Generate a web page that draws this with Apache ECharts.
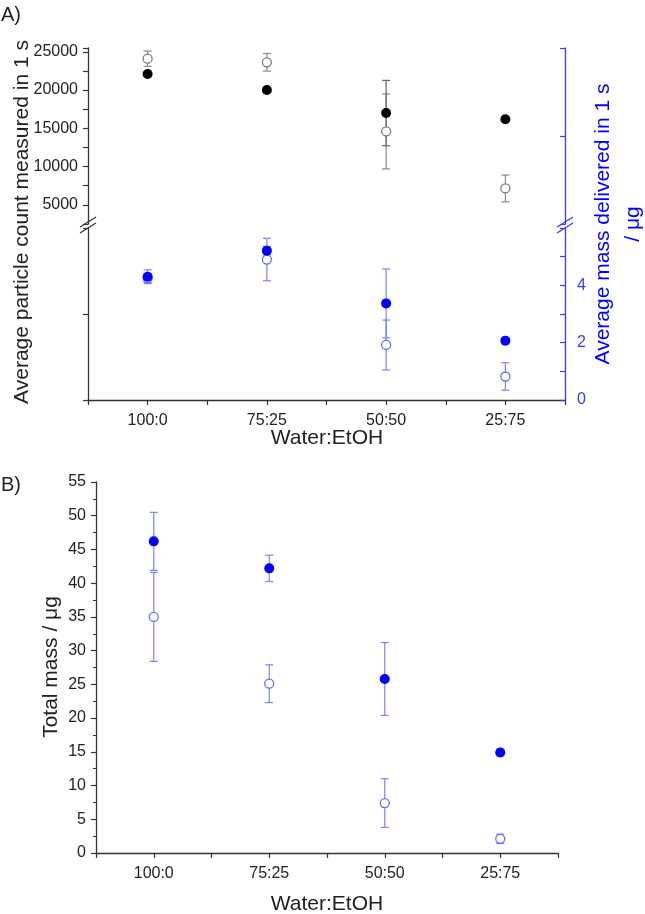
<!DOCTYPE html>
<html>
<head>
<meta charset="utf-8">
<script src="https://cdn.jsdelivr.net/npm/echarts@6/dist/echarts.min.js"></script>
<style>
  html, body { margin: 0; padding: 0; background: #fff; }
  #chart { width: 645px; height: 914px; }
</style>
</head>
<body>
<div id="chart"></div>
<script>
// categories on both x axes
const categories = ["100:0", "75:25", "50:50", "25:75"];

// A) upper part: particle count in 1 s (left axis)
const countFilled = [22100, 20000, 17000, 16200];
const countFilledErr = [300, 250, 4270, 250];
const countOpen = [24100, 23630, 14600, 7150];
const countOpenErr = [1000, 1150, 4900, 1750];

// A) lower part: mass delivered in 1 s / ug (right axis)
const massFilled = [4.30, 5.21, 3.37, 2.07];
const massFilledErr = [0.24, 0.15, 1.2, 0.08];
const massOpen = [4.25, 4.90, 1.92, 0.82];
const massOpenErr = [0.15, 0.74, 0.87, 0.48];

// B) total mass / ug
const totalFilled = [46.2, 42.2, 25.8, 14.9];
const totalFilledErr = [4.3, 1.95, 5.4, 0.5];
const totalOpen = [35.0, 25.1, 7.4, 2.1];
const totalOpenErr = [6.6, 2.8, 3.6, 0.7];

// tick labels
const countTicks = [5000, 10000, 15000, 20000, 25000];
const massTicks = [0, 2, 4];

const FONT = "Liberation Sans, Arial, sans-serif";
const TXT = "#222";
const BLUE = "#0000ff";
const AXBLUE = "#3a3aff";

function pts(vals) {
  return vals.map((v, i) => [i + 1, v]);
}
function errs(vals, e) {
  return vals.map((v, i) => [i + 1, v - e[i], v + e[i]]);
}

function errorSeries(data, color, xi, yi) {
  return {
    type: "custom",
    xAxisIndex: xi,
    yAxisIndex: yi,
    z: 1,
    silent: true,
    data: data,
    renderItem: function (params, api) {
      const x = api.value(0);
      const a = api.coord([x, api.value(2)]);
      const b = api.coord([x, api.value(1)]);
      const w = 4;
      const style = { stroke: color, lineWidth: 1.2, fill: null };
      return {
        type: "group",
        children: [
          { type: "line", shape: { x1: a[0], y1: a[1], x2: b[0], y2: b[1] }, style: style },
          { type: "line", shape: { x1: a[0] - w, y1: a[1], x2: a[0] + w, y2: a[1] }, style: style },
          { type: "line", shape: { x1: b[0] - w, y1: b[1], x2: b[0] + w, y2: b[1] }, style: style }
        ]
      };
    }
  };
}

function markerSeries(data, filled, color, xi, yi) {
  return {
    type: "scatter",
    xAxisIndex: xi,
    yAxisIndex: yi,
    z: 3,
    symbol: "circle",
    symbolSize: filled ? 10 : 9,
    itemStyle: filled
      ? { color: color, opacity: 1 }
      : { color: "#fff", borderColor: color, borderWidth: 1.3, opacity: 1 },
    data: data
  };
}

function catAxis(gi, show) {
  return {
    type: "value",
    gridIndex: gi,
    show: show,
    min: 0.5,
    max: 4.5,
    interval: 0.5,
    axisLine: { lineStyle: { color: "#333", width: 1.3 } },
    axisTick: { length: 5, lineStyle: { color: "#333", width: 1.2 } },
    axisLabel: {
      margin: 13,
      fontSize: 16,
      fontFamily: FONT,
      color: TXT,
      formatter: v => (Number.isInteger(v) ? categories[v - 1] : "")
    },
    splitLine: { show: false }
  };
}

function txt(text, x, y, size, color, rot, lh) {
  return {
    type: "text",
    x: x,
    y: y,
    rotation: rot || 0,
    style: {
      text: text,
      fontSize: size,
      fontFamily: FONT,
      fill: color,
      lineHeight: lh || Math.round(size * 1.2),
      align: "center",
      verticalAlign: "middle",
      textAlign: "center",
      textVerticalAlign: "middle"
    }
  };
}

function breakMark(x, y, color) {
  const s = { stroke: color, lineWidth: 1.3 };
  return [
    { type: "line", shape: { x1: x - 8, y1: y + 2, x2: x + 8, y2: y - 8 }, style: s },
    { type: "line", shape: { x1: x - 8, y1: y + 8, x2: x + 8, y2: y - 2 }, style: s }
  ];
}

const chart = echarts.init(document.getElementById("chart"));
chart.setOption({
  animation: false,
  backgroundColor: "#fff",
  grid: [
    { left: 88, top: 48, width: 477, height: 176 },
    { left: 88, top: 228, width: 477, height: 172 },
    { left: 96, top: 482, width: 462, height: 371 }
  ],
  xAxis: [catAxis(0, false), catAxis(1, true), catAxis(2, true)],
  yAxis: [
    {
      type: "value", gridIndex: 0, position: "left",
      min: 2500, max: 25500, interval: 2500,
      axisLine: { show: true, lineStyle: { color: "#333", width: 1.3 } },
      axisTick: { show: true, length: 5, lineStyle: { color: "#333", width: 1.2 } },
      axisLabel: {
        margin: 10, fontSize: 16, fontFamily: FONT, color: TXT,
        formatter: v => (countTicks.indexOf(v) >= 0 ? String(v) : "")
      },
      splitLine: { show: false }
    },
    {
      type: "value", gridIndex: 0, position: "right",
      min: 0, max: 2, interval: 1,
      axisLine: { show: true, lineStyle: { color: AXBLUE, width: 1.3 } },
      axisTick: { show: true, inside: true, length: 5, lineStyle: { color: AXBLUE, width: 1.2 } },
      axisLabel: { show: false },
      splitLine: { show: false }
    },
    {
      type: "value", gridIndex: 1, position: "left",
      min: 0, max: 6, interval: 3,
      axisLine: { show: true, lineStyle: { color: "#333", width: 1.3 } },
      axisTick: { show: true, length: 5, lineStyle: { color: "#333", width: 1.2 } },
      axisLabel: { show: false },
      splitLine: { show: false }
    },
    {
      type: "value", gridIndex: 1, position: "right",
      min: 0, max: 6, interval: 1,
      axisLine: { show: true, lineStyle: { color: AXBLUE, width: 1.3 } },
      axisTick: { show: true, inside: true, length: 5, lineStyle: { color: AXBLUE, width: 1.2 } },
      axisLabel: {
        margin: 12, fontSize: 16, fontFamily: FONT, color: AXBLUE,
        formatter: v => (massTicks.indexOf(v) >= 0 ? String(v) : "")
      },
      splitLine: { show: false }
    },
    {
      type: "value", gridIndex: 2, position: "left",
      min: 0, max: 55, interval: 5,
      axisLine: { show: true, lineStyle: { color: "#333", width: 1.3 } },
      axisTick: { show: true, length: 5, lineStyle: { color: "#333", width: 1.2 } },
      minorTick: { show: true, splitNumber: 2, length: 3, lineStyle: { color: "#333", width: 1 } },
      axisLabel: { margin: 10, fontSize: 16, fontFamily: FONT, color: TXT },
      splitLine: { show: false }
    }
  ],
  graphic: [
    txt("A)", 11, 15, 20, TXT, 0),
    txt("B)", 11, 485, 20, TXT, 0),
    txt("Average particle count measured in 1 s", 22, 222, 21, TXT, Math.PI / 2),
    txt("Average mass delivered in 1 s\n/ μg", 618, 224, 21, BLUE, Math.PI / 2, 30),
    txt("Water:EtOH", 327, 438, 21, TXT, 0),
    txt("Total mass / μg", 51, 667, 21, TXT, Math.PI / 2),
    txt("Water:EtOH", 327, 904, 21, TXT, 0)
  ].concat(breakMark(88, 225, "#333"), breakMark(565, 225, AXBLUE)),
  series: [
    errorSeries(errs(countOpen, countOpenErr), "#8a8a8a", 0, 0),
    errorSeries(errs(countFilled, countFilledErr), "#666", 0, 0),
    markerSeries(pts(countOpen), false, "#7a7a7a", 0, 0),
    markerSeries(pts(countFilled), true, "#000", 0, 0),

    errorSeries(errs(massOpen, massOpenErr), "#8080ff", 1, 3),
    errorSeries(errs(massFilled, massFilledErr), "#8080ff", 1, 3),
    markerSeries(pts(massOpen), false, "#6a6aff", 1, 3),
    markerSeries(pts(massFilled), true, BLUE, 1, 3),

    errorSeries(errs(totalOpen, totalOpenErr), "#8080ff", 2, 4),
    errorSeries(errs(totalFilled, totalFilledErr), "#8080ff", 2, 4),
    markerSeries(pts(totalOpen), false, "#6a6aff", 2, 4),
    markerSeries(pts(totalFilled), true, BLUE, 2, 4)
  ]
});
</script>
</body>
</html>
